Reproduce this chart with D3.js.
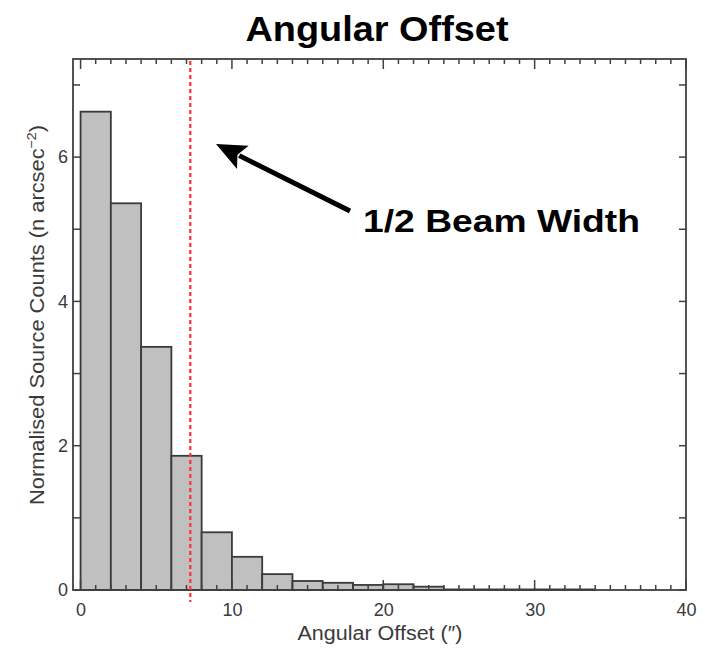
<!DOCTYPE html>
<html><head><meta charset="utf-8">
<script src="https://cdn.jsdelivr.net/npm/d3@7"></script>
<style>body{margin:0;background:#fff}svg{display:block}</style>
</head><body>
<svg id="c" width="705" height="649"></svg>
<script>
const binStarts = [0,2,4,6,8,10,12,14,16,18,20,22,24,26,28,30,32];
const binWidth = 2;
const counts = [6.63,5.36,3.37,1.86,0.80,0.46,0.22,0.125,0.10,0.07,0.08,0.046,0.008,0.008,0.008,0.008,0.008];
const xMajorTicks = [0,10,20,30,40];
const yMajorTicks = [0,2,4,6];
const beamHalfWidth = 7.25;
const titleText = "Angular Offset";
const xLabel = "Angular Offset (\u2033)";
const annotation = "1/2 Beam Width";

const svg = d3.select("#c");
const L=73, R=686, T=59, B=590;
const x = d3.scaleLinear().domain([-0.5,40]).range([L,R]);
const y = d3.scaleLinear().domain([0,7.36]).range([B,T]);
const axisCol = "#404040";
const font = "Liberation Sans, Arial, sans-serif";

// bars
svg.append("g").selectAll("rect").data(binStarts).join("rect")
  .attr("x", (d)=>x(d)).attr("width",(d)=>x(d+binWidth)-x(d))
  .attr("y",(d,i)=>y(counts[i])).attr("height",(d,i)=>y(0)-y(counts[i]))
  .attr("fill","#c0c0c0").attr("stroke","#3a3a3a").attr("stroke-width",1.8);

// ticks
const xMinor = d3.range(0,41,1);
const yMinor = d3.range(0,8,1).filter(v=>v<=7.36);
const tk = svg.append("g").attr("stroke",axisCol).attr("stroke-width",1.5);
xMinor.forEach(v=>{
  const len = xMajorTicks.includes(v)?10:5;
  tk.append("line").attr("x1",x(v)).attr("x2",x(v)).attr("y1",B).attr("y2",B-len);
  tk.append("line").attr("x1",x(v)).attr("x2",x(v)).attr("y1",T).attr("y2",T+len);
});
yMinor.forEach(v=>{
  const len = 7;
  tk.append("line").attr("x1",L).attr("x2",L+len).attr("y1",y(v)).attr("y2",y(v));
  tk.append("line").attr("x1",R).attr("x2",R-len).attr("y1",y(v)).attr("y2",y(v));
});

// frame
svg.append("rect").attr("x",L).attr("y",T).attr("width",R-L).attr("height",B-T)
  .attr("fill","none").attr("stroke",axisCol).attr("stroke-width",1.8);

// tick labels via axes
const xa = svg.append("g").attr("transform",`translate(0,${B})`)
  .call(d3.axisBottom(x).tickValues(xMajorTicks).tickSize(0).tickPadding(13).tickFormat(d3.format("d")));
xa.select(".domain").remove();
xa.selectAll("text").attr("font-family",font).attr("font-size",18).attr("fill","#3a3a3a");
const ya = svg.append("g").attr("transform",`translate(${L},0)`)
  .call(d3.axisLeft(y).tickValues(yMajorTicks).tickSize(0).tickPadding(5).tickFormat(d3.format("d")));
ya.select(".domain").remove();
ya.selectAll("text").attr("font-family",font).attr("font-size",18).attr("fill","#3a3a3a");

// red dashed line
svg.append("line").attr("x1",x(beamHalfWidth)).attr("x2",x(beamHalfWidth))
  .attr("y1",T+2).attr("y2",B+12)
  .attr("stroke","#ff3030").attr("stroke-width",2.2).attr("stroke-dasharray","4,3");

// axis titles
svg.append("text").attr("x",380).attr("y",640).attr("text-anchor","middle")
  .attr("font-family",font).attr("font-size",20).attr("textLength",165).attr("lengthAdjust","spacingAndGlyphs")
  .attr("fill","#3a3a3a").text(xLabel);
const yt = svg.append("text").attr("transform",`translate(44,315) rotate(-90)`)
  .attr("text-anchor","middle").attr("font-family",font).attr("font-size",20).attr("fill","#3a3a3a")
  .attr("textLength",380).attr("lengthAdjust","spacingAndGlyphs");
yt.append("tspan").text("Normalised Source Counts (n arcsec");
yt.append("tspan").attr("font-size",13).attr("dy",-8).text("\u22122");
yt.append("tspan").attr("dy",8).text(")");

// title
svg.append("text").attr("x",377).attr("y",41).attr("text-anchor","middle")
  .attr("font-family",font).attr("font-weight","bold")
  .attr("font-size",35).attr("textLength",263).attr("lengthAdjust","spacingAndGlyphs").attr("fill","#000").text(titleText);

// annotation
svg.append("text").attr("x",363).attr("y",232)
  .attr("font-family",font).attr("font-weight","bold")
  .attr("font-size",32).attr("textLength",277).attr("lengthAdjust","spacingAndGlyphs").attr("fill","#000").text(annotation);

// arrow
const tail=[350,211], tip=[216,144];
const ang=Math.atan2(tip[1]-tail[1],tip[0]-tail[0]);
const hl=30, hw=13;
const base=[tip[0]-hl*Math.cos(ang), tip[1]-hl*Math.sin(ang)];
svg.append("line").attr("x1",tail[0]).attr("y1",tail[1]).attr("x2",base[0]+4*Math.cos(ang)).attr("y2",base[1]+4*Math.sin(ang))
  .attr("stroke","#000").attr("stroke-width",5);
const p1=[base[0]+hw*Math.sin(ang), base[1]-hw*Math.cos(ang)];
const p2=[base[0]-hw*Math.sin(ang), base[1]+hw*Math.cos(ang)];
svg.append("polygon").attr("points",[tip,p1,[base[0]+6*Math.cos(ang),base[1]+6*Math.sin(ang)],p2].map(p=>p.join(",")).join(" ")).attr("fill","#000");
</script>
</body></html>
